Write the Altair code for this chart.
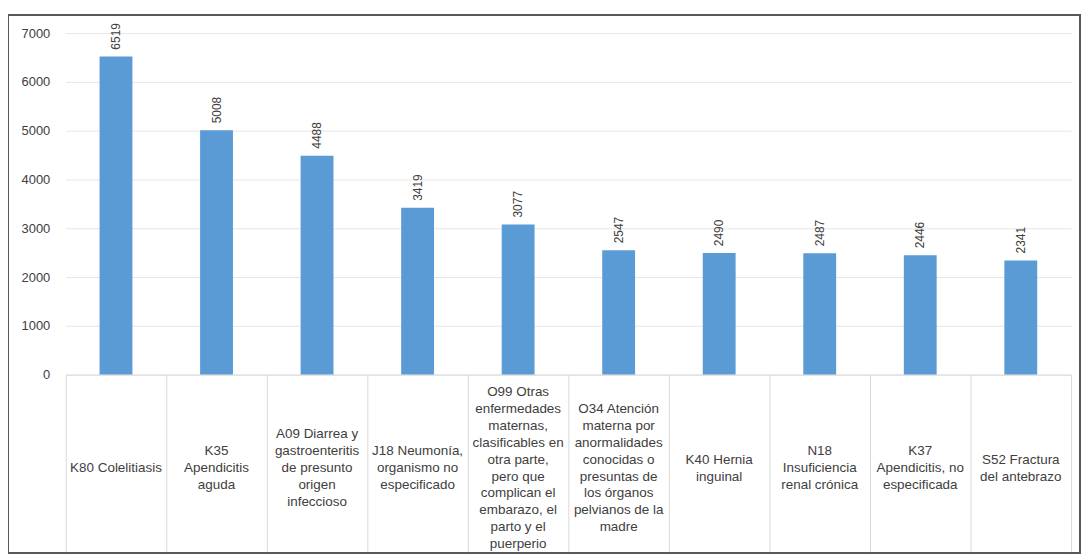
import altair as alt
import pandas as pd

categories = [
    "K80 Colelitiasis",
    "K35|Apendicitis|aguda",
    "A09 Diarrea y|gastroenteritis|de presunto|origen|infeccioso",
    "J18 Neumonía,|organismo no|especificado",
    "O99 Otras|enfermedades|maternas,|clasificables en|otra parte,|pero que|complican el|embarazo, el|parto y el|puerperio",
    "O34 Atención|materna por|anormalidades|conocidas o|presuntas de|los órganos|pelvianos de la|madre",
    "K40 Hernia|inguinal",
    "N18|Insuficiencia|renal crónica",
    "K37|Apendicitis, no|especificada",
    "S52 Fractura|del antebrazo",
]
values = [6519, 5008, 4488, 3419, 3077, 2547, 2490, 2487, 2446, 2341]
y_ticks = [0, 1000, 2000, 3000, 4000, 5000, 6000, 7000]

df = pd.DataFrame({"cat": categories, "val": values})

W, H = 1010, 343
LH = 17

x_enc = alt.X(
    "cat:N",
    sort=categories,
    title=None,
    scale=alt.Scale(paddingInner=0, paddingOuter=0),
    axis=alt.Axis(
        labels=False,
        tickBand="extent",
        tickSize=180,
        tickColor="#d9d9d9",
        domainColor="#d9d9d9",
    ),
)

y_enc = alt.Y(
    "val:Q",
    title=None,
    scale=alt.Scale(domain=[0, 7000], nice=False),
    axis=alt.Axis(
        values=y_ticks,
        format="d",
        labelFont="Liberation Sans",
        labelFontSize=13,
        labelColor="#404040",
        tickSize=0,
        labelPadding=16,
        domain=False,
        gridColor="#e6e6e6",
    ),
)

bars = alt.Chart(df).mark_bar(size=33, color="#5b9bd5").encode(x=x_enc, y=y_enc)

labels = alt.Chart(df).mark_text(
    angle=270, align="left", baseline="middle", dx=7,
    font="Liberation Sans", fontSize=12, color="#404040",
).encode(x=alt.X("cat:N", sort=categories), y="val:Q", text="val:Q")

cat_labels = alt.Chart(df).transform_calculate(
    n="length(split(datum.cat, '|'))",
).transform_calculate(
    ly=f"{H + 94} - (datum.n - 1) * {LH} / 2",
).mark_text(
    text={"expr": "split(datum.cat, '|')"},
    align="center", baseline="middle", lineHeight=LH,
    font="Liberation Sans", fontSize=13.5, color="#404040",
).encode(
    x=alt.X("cat:N", sort=categories),
    y=alt.Y("ly:Q", scale=None),
)

border = alt.Chart(df).mark_rect(
    fill=None, stroke="#595959", strokeWidth=1.5, clip=False
).encode(
    x=alt.value(-58), x2=alt.value(1019), y=alt.value(-18), y2=alt.value(522)
)

chart = (
    alt.layer(bars, labels, cat_labels, border)
    .properties(
        width=W, height=H,
        autosize=alt.AutoSizeParams(type="none"),
        padding={"left": 58, "top": 24, "right": 10, "bottom": 180},
    )
    .configure_view(stroke=None)
)

chart.save("out.html", embed_options={"renderer": "svg", "actions": False})
